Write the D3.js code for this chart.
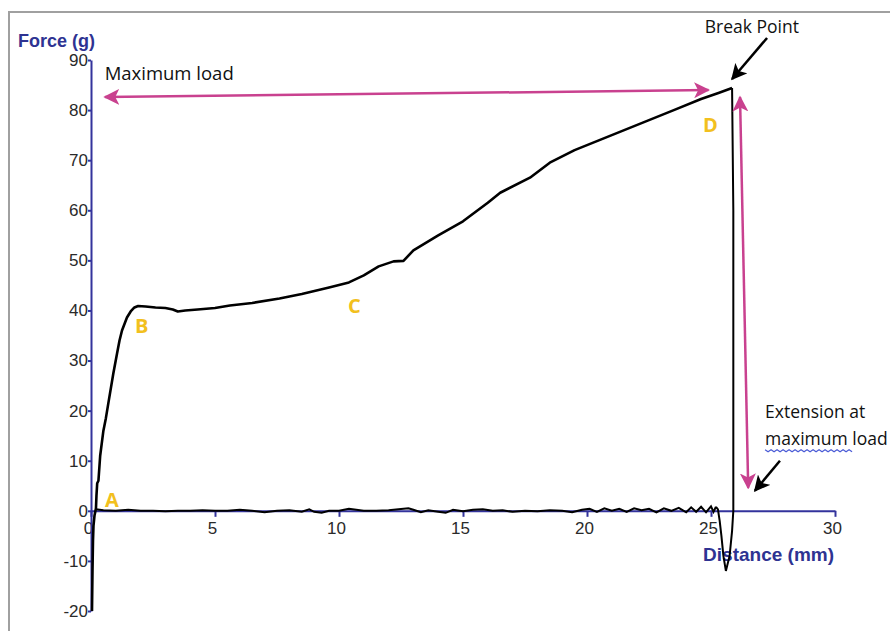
<!DOCTYPE html>
<html>
<head>
<meta charset="utf-8">
<script src="https://cdn.jsdelivr.net/npm/d3@7"></script>
<style>
  body { margin: 0; background: #fff; }
  svg { display: block; }
</style>
</head>
<body>
<div class="chart"></div>
<script>
// force-distance trace
var xTicks = [0, 5, 10, 15, 20, 25, 30];
var yTicks = [-20, -10, 0, 10, 20, 30, 40, 50, 60, 70, 80, 90];

// loading curve: distance (mm), force (g)
var loadCurve = [
  [0.04,-20],[0.06,-12],[0.08,-6],[0.1,-3],[0.14,-1],[0.2,0.5],[0.22,3],[0.25,5.5],
  [0.3,6],[0.37,11],[0.5,16],[0.6,18.5],[0.7,21.5],[0.9,27.4],[1.05,31.4],[1.15,34],
  [1.25,36],[1.45,38.6],[1.6,39.8],[1.75,40.6],[1.9,40.9],[2.2,40.8],[2.6,40.6],[3.0,40.5],
  [3.3,40.2],[3.5,39.8],[3.8,40.0],[4.3,40.2],[5.0,40.5],[5.6,41.0],[6.5,41.5],[7.6,42.4],
  [8.5,43.3],[9.6,44.6],[10.4,45.6],[11.0,47.0],[11.6,48.8],[12.2,49.8],[12.6,49.9],
  [13.0,52.0],[14.0,55.0],[15.0,57.8],[16.0,61.5],[16.5,63.5],[17.7,66.5],[18.5,69.5],
  [19.5,72.0],[20.5,74.0],[21.5,76.0],[22.5,78.0],[23.5,80.0],[24.6,82.2],[25.3,83.4],[25.85,84.4]
];

// break and drop below zero
var dropCurve = [
  [25.85,84.4],[25.9,60],[25.9,20],[25.9,0],[25.85,-4],[25.75,-9],[25.6,-12],
  [25.5,-9],[25.42,-5],[25.35,-2],[25.28,0.3],[25.2,0.8]
];

// return trace along zero
var baseCurve = [
  [0.2,0.3],[0.5,0.1],[1,0],[1.5,0.2],[2,0],[2.5,0],[3,-0.1],[3.5,0],[4,0],[4.5,0.1],
  [5,0],[5.5,0],[6,0.2],[6.5,0],[7,-0.3],[7.5,0],[8,0.1],[8.5,-0.2],[8.8,0.3],[9,-0.2],
  [9.3,-0.4],[9.6,0],[10,0],[10.4,0.4],[11,0],[11.5,0],[12,0.1],[12.4,0.3],[12.8,0.5],
  [13,0.2],[13.3,-0.3],[13.6,0.1],[14,-0.2],[14.3,-0.4],[14.6,0.2],[15,-0.1],[15.4,0.2],
  [15.8,0.3],[16.2,0],[16.6,0.1],[17,-0.2],[17.5,0],[18,-0.1],[18.5,0.1],[19,0],
  [19.4,-0.3],[19.8,0.2],[20.1,0.4],[20.4,-0.2],[20.7,0.5],[21,0],[21.3,0.4],[21.6,-0.2],
  [21.9,0.5],[22.2,0.1],[22.5,0.4],[22.8,-0.3],[23.1,0.5],[23.4,0],[23.7,0.6],[24,-0.3],
  [24.2,0.7],[24.4,-0.2],[24.6,0.8],[24.8,-0.3],[25,0.9],[25.1,-0.2],[25.2,0.8]
];

// point labels
var pointLabels = [
  {t: "A", x: 0.56, y: 0.8},
  {t: "B", x: 1.77, y: 35.4},
  {t: "C", x: 10.36, y: 39.4},
  {t: "D", x: 24.68, y: 75.6}
];

var width = 890,
    height = 631;

var x = d3.scaleLinear().domain([0, 30]).range([91, 835]);
var y = d3.scaleLinear().domain([-20, 90]).range([611, 60]);

var svg = d3.select(".chart").append("svg")
    .attr("width", width)
    .attr("height", height);

// frame of the scanned figure
svg.append("path")
    .attr("d", "M9,631V12H890")
    .attr("fill", "none")
    .attr("stroke", "#a0a0a0")
    .attr("stroke-width", 2);

var defs = svg.append("defs");
function arrowHead(id, col, size) {
  defs.append("marker")
      .attr("id", id)
      .attr("viewBox", "0 0 10 10")
      .attr("refX", 9)
      .attr("refY", 5)
      .attr("markerWidth", size)
      .attr("markerHeight", size)
      .attr("markerUnits", "userSpaceOnUse")
      .attr("orient", "auto-start-reverse")
      .append("path")
      .attr("d", "M0,0L10,5L0,10L2.5,5Z")
      .attr("fill", col);
}
arrowHead("pink", "#c9418f", 16);
arrowHead("black", "#000", 16);

var axisCol = "#33339c";

var xAxis = svg.append("g")
    .attr("transform", "translate(0," + y(0) + ")")
    .call(d3.axisBottom(x).tickValues(xTicks).tickFormat(String)
      .tickSizeInner(6).tickSizeOuter(0).tickPadding(5));

var yAxis = svg.append("g")
    .attr("transform", "translate(" + x(0) + ",0)")
    .call(d3.axisLeft(y).tickValues(yTicks).tickFormat(String)
      .tickSizeInner(3).tickSizeOuter(0).tickPadding(0));

[xAxis, yAxis].forEach(function(g) {
  g.select(".domain").attr("stroke", axisCol).attr("stroke-width", 2);
  g.selectAll(".tick line").attr("stroke", axisCol).attr("stroke-width", 2);
  g.selectAll(".tick text")
      .attr("fill", "#2a2a2a")
      .style("font-family", "'Liberation Sans', Arial, sans-serif")
      .style("font-size", "17px");
});
xAxis.selectAll(".tick text").attr("dx", "-3");

svg.append("text")
    .attr("x", 18)
    .attr("y", 47)
    .attr("fill", "#2e3392")
    .style("font-family", "'Liberation Sans', Arial, sans-serif")
    .style("font-size", "18px")
    .style("font-weight", "bold")
    .text("Force (g)");

svg.append("text")
    .attr("x", 834)
    .attr("y", 561)
    .attr("text-anchor", "end")
    .attr("fill", "#2e3392")
    .style("font-family", "'Liberation Sans', Arial, sans-serif")
    .style("font-size", "19px")
    .style("font-weight", "bold")
    .text("Distance (mm)");

var line = d3.line()
    .x(function(d) { return x(d[0]); })
    .y(function(d) { return y(d[1]); });

svg.append("path")
    .datum(baseCurve)
    .attr("d", line)
    .attr("fill", "none")
    .attr("stroke", "#000")
    .attr("stroke-width", 2);

svg.append("path")
    .datum(loadCurve)
    .attr("d", line)
    .attr("fill", "none")
    .attr("stroke", "#000")
    .attr("stroke-width", 2.6)
    .attr("stroke-linejoin", "round");

svg.append("path")
    .datum(dropCurve)
    .attr("d", line)
    .attr("fill", "none")
    .attr("stroke", "#000")
    .attr("stroke-width", 2);

// annotation arrows
var arrows = [
  {x1: 24.9, y1: 84.0, x2: 0.56, y2: 82.6, col: "#c9418f", id: "pink", both: true},
  {x1: 26.17, y1: 82.6, x2: 26.5, y2: 4.6, col: "#c9418f", id: "pink", both: true},
  {x1: 27.26, y1: 94.4, x2: 25.85, y2: 86.2, col: "#000", id: "black", both: false},
  {x1: 27.78, y1: 10, x2: 26.77, y2: 4, col: "#000", id: "black", both: false}
];

svg.selectAll(".arrow")
    .data(arrows)
    .enter()
    .append("line")
    .attr("class", "arrow")
    .attr("x1", function(d) { return x(d.x1); })
    .attr("y1", function(d) { return y(d.y1); })
    .attr("x2", function(d) { return x(d.x2); })
    .attr("y2", function(d) { return y(d.y2); })
    .attr("stroke", function(d) { return d.col; })
    .attr("stroke-width", 2.5)
    .attr("marker-end", function(d) { return "url(#" + d.id + ")"; })
    .attr("marker-start", function(d) { return d.both ? "url(#" + d.id + ")" : null; });

var noteFont = "'Open Sans', 'Noto Sans', sans-serif";

svg.append("text")
    .attr("x", x(0.55))
    .attr("y", y(86))
    .attr("fill", "#111")
    .style("font-family", noteFont)
    .style("font-size", "18.5px")
    .text("Maximum load");

svg.append("text")
    .attr("x", x(26.65))
    .attr("y", y(95.4))
    .attr("text-anchor", "middle")
    .attr("fill", "#111")
    .style("font-family", noteFont)
    .style("font-size", "17.5px")
    .text("Break Point");

svg.append("text")
    .attr("x", x(27.18))
    .attr("y", y(18.6))
    .attr("fill", "#111")
    .style("font-family", noteFont)
    .style("font-size", "17.5px")
    .text("Extension at");

svg.append("text")
    .attr("x", x(27.18))
    .attr("y", y(13.2))
    .attr("fill", "#111")
    .style("font-family", noteFont)
    .style("font-size", "17.5px")
    .text("maximum load");

// spell-check squiggle under "maximum"
var sq = "M" + x(27.18) + "," + (y(13.2) + 5);
for (var i = 1; i <= 29; i++) {
  sq += "L" + (x(27.18) + i * 3) + "," + (y(13.2) + 5 + (i % 2 ? 2 : 0));
}
svg.append("path")
    .attr("d", sq)
    .attr("fill", "none")
    .attr("stroke", "#4a5bd6")
    .attr("stroke-width", 1.2);

svg.selectAll(".ptlabel")
    .data(pointLabels)
    .enter()
    .append("text")
    .attr("class", "ptlabel")
    .attr("x", function(d) { return x(d.x); })
    .attr("y", function(d) { return y(d.y); })
    .attr("fill", "#f2c01e")
    .style("font-family", noteFont)
    .style("font-size", "20px")
    .style("font-weight", "bold")
    .text(function(d) { return d.t; });
</script>
</body>
</html>
